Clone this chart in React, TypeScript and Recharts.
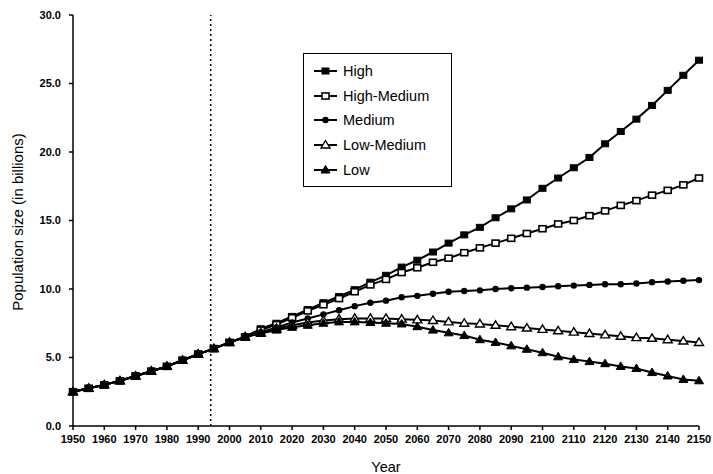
import { LineChart, Line, XAxis, YAxis, ReferenceLine } from "recharts";

const years = [
  1950, 1955, 1960, 1965, 1970, 1975, 1980, 1985, 1990, 1995, 2000, 2005, 2010, 2015,
  2020, 2025, 2030, 2035, 2040, 2045, 2050, 2055, 2060, 2065, 2070, 2075, 2080, 2085,
  2090, 2095, 2100, 2105, 2110, 2115, 2120, 2125, 2130, 2135, 2140, 2145, 2150,
];

// 1950-2005, shared by every projection
const history = [2.5, 2.75, 3.0, 3.3, 3.65, 4.0, 4.35, 4.8, 5.25, 5.65, 6.1, 6.5];

// 2010-2150
const high = [
  7.1, 7.5, 8.0, 8.5, 9.0, 9.45, 9.95, 10.5, 11.0, 11.6, 12.1, 12.7, 13.35, 13.95, 14.5,
  15.2, 15.85, 16.5, 17.35, 18.1, 18.85, 19.6, 20.6, 21.5, 22.4, 23.4, 24.5, 25.6, 26.7,
];
const highMedium = [
  7.0, 7.4, 7.9, 8.4, 8.85, 9.3, 9.8, 10.3, 10.7, 11.2, 11.55, 11.95, 12.25, 12.65, 13.0,
  13.35, 13.7, 14.05, 14.4, 14.75, 15.0, 15.35, 15.7, 16.1, 16.45, 16.85, 17.2, 17.6, 18.1,
];
const medium = [
  6.85, 7.2, 7.55, 7.85, 8.15, 8.45, 8.75, 9.0, 9.15, 9.4, 9.5, 9.65, 9.8, 9.85, 9.9,
  10.0, 10.05, 10.1, 10.15, 10.2, 10.25, 10.3, 10.35, 10.35, 10.4, 10.5, 10.55, 10.6, 10.65,
];
const lowMedium = [
  6.8, 7.1, 7.35, 7.55, 7.7, 7.8, 7.85, 7.85, 7.85, 7.8, 7.75, 7.7, 7.6, 7.5, 7.45,
  7.35, 7.25, 7.15, 7.05, 6.95, 6.85, 6.75, 6.65, 6.55, 6.45, 6.4, 6.3, 6.2, 6.1,
];
const low = [
  6.75, 7.0, 7.2, 7.35, 7.5, 7.6, 7.6, 7.55, 7.5, 7.45, 7.25, 7.0, 6.8, 6.6, 6.3,
  6.1, 5.85, 5.6, 5.35, 5.05, 4.85, 4.7, 4.55, 4.35, 4.2, 3.9, 3.65, 3.4, 3.3,
];

const xTicks = [
  1950, 1960, 1970, 1980, 1990, 2000, 2010, 2020, 2030, 2040, 2050, 2060, 2070, 2080,
  2090, 2100, 2110, 2120, 2130, 2140, 2150,
];
const yTicks = [0, 5, 10, 15, 20, 25, 30];
const conferenceYear = 1994;

const data = years.map((year, i) => {
  const j = i - history.length;
  const pick = (arr: number[]) => (j < 0 ? history[i] : arr[j]);
  return {
    year,
    high: pick(high),
    highMedium: pick(highMedium),
    medium: pick(medium),
    lowMedium: pick(lowMedium),
    low: pick(low),
  };
});

type Shape = "square" | "openSquare" | "circle" | "openTriangle" | "triangle";

function Marker({ shape, cx, cy }: { shape: Shape; cx: number; cy: number }) {
  if (shape === "square" || shape === "openSquare") {
    const open = shape === "openSquare";
    return (
      <rect
        x={cx - 3.5}
        y={cy - 3}
        width={7}
        height={6}
        fill={open ? "#fff" : "#000"}
        stroke="#000"
        strokeWidth={open ? 1.6 : 1}
      />
    );
  }
  if (shape === "circle") {
    return <circle cx={cx} cy={cy} r={3.2} fill="#000" />;
  }
  const open = shape === "openTriangle";
  return (
    <polygon
      points={`${cx},${cy - 4.5} ${cx + 4.5},${cy + 3} ${cx - 4.5},${cy + 3}`}
      fill={open ? "#fff" : "#000"}
      stroke="#000"
      strokeWidth={open ? 1.4 : 1}
    />
  );
}

const seriesList: { key: string; name: string; shape: Shape }[] = [
  { key: "high", name: "High", shape: "square" },
  { key: "highMedium", name: "High-Medium", shape: "openSquare" },
  { key: "medium", name: "Medium", shape: "circle" },
  { key: "lowMedium", name: "Low-Medium", shape: "openTriangle" },
  { key: "low", name: "Low", shape: "triangle" },
];

const font = "Liberation Sans, Arial, sans-serif";

// legend drawn as a plain box over the chart, so the plot keeps its full height
function LegendBox() {
  return (
    <div
      style={{
        position: "absolute",
        left: 303,
        top: 53,
        border: "1.5px solid #000",
        width: 149,
        height: 134,
        boxSizing: "border-box",
        padding: "5px 0 0 9px",
        fontFamily: font,
        fontSize: 14.5,
        color: "#000",
        background: "#fff",
      }}
    >
      {seriesList.map((s) => (
        <div key={s.key} style={{ display: "flex", alignItems: "center", height: 24.6 }}>
          <svg width={26} height={12} style={{ marginRight: 4 }}>
            <line x1={1} y1={6} x2={24} y2={6} stroke="#000" strokeWidth={2} />
            <Marker shape={s.shape} cx={12.5} cy={6} />
          </svg>
          <span>{s.name}</span>
        </div>
      ))}
    </div>
  );
}

const tickFont = { fontFamily: font, fontSize: 11, fontWeight: 700, fill: "#000" };

function YTitle() {
  return (
    <text
      x={23}
      y={222}
      transform="rotate(-90, 23, 222)"
      textAnchor="middle"
      fontFamily={font}
      fontSize={15}
      fill="#000"
    >
      Population size (in billions)
    </text>
  );
}

export default function App() {
  return (
    <div style={{ position: "absolute", left: 0, top: 0, width: 713, height: 474, background: "#fff" }}>
      <LineChart width={713} height={474} data={data} margin={{ top: 15, right: 14, bottom: 0, left: 0 }}>
        <XAxis
          dataKey="year"
          type="number"
          domain={[1950, 2150]}
          ticks={xTicks}
          interval={0}
          height={48}
          stroke="#000"
          strokeWidth={1.5}
          tickSize={4}
          tickMargin={5}
          tick={tickFont}
          label={{
            value: "Year",
            position: "insideBottom",
            offset: 2,
            style: { fontFamily: font, fontSize: 14.5, fill: "#000" },
          }}
        />
        <YAxis
          type="number"
          domain={[0, 30]}
          ticks={yTicks}
          interval={0}
          width={73}
          stroke="#000"
          strokeWidth={1.5}
          tickSize={4}
          tickMargin={8}
          tick={tickFont}
          tickFormatter={(v: number) => v.toFixed(1)}
          label={{ content: () => <YTitle /> }}
        />
        <ReferenceLine x={conferenceYear} stroke="#000" strokeWidth={1.5} strokeDasharray="2 3" />
        {seriesList.map((s) => (
          <Line
            key={s.key}
            dataKey={s.key}
            name={s.name}
            type="linear"
            stroke="#000"
            strokeWidth={2}
            isAnimationActive={false}
            dot={(p: any) => <Marker key={`${s.key}-${p.index}`} shape={s.shape} cx={p.cx} cy={p.cy} />}
            activeDot={false}
          />
        ))}
      </LineChart>
      <LegendBox />
    </div>
  );
}
